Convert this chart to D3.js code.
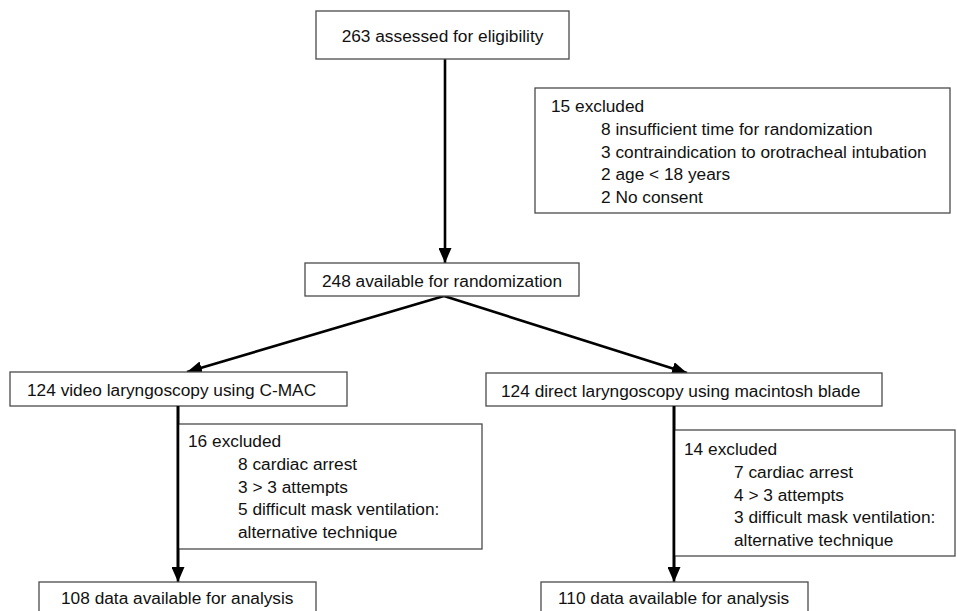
<!DOCTYPE html>
<html>
<head>
<meta charset="utf-8">
<script src="https://cdn.jsdelivr.net/npm/d3@7"></script>
<style>
  body { margin: 0; background: #fff; }
  text { font-family: "Liberation Sans", Arial, Helvetica, sans-serif; font-size: 17.3px; fill: #111; }
</style>
</head>
<body>
<div id="canvas"></div>
<script>
"use strict"

// flow counts and labels
let stageCounts = [263, 248]
let stageLabels = ["assessed for eligibility", "available for randomization"]

let screenExcluded = 15
let screenReasons = ["8 insufficient time for randomization",
    "3 contraindication to orotracheal intubation",
    "2 age < 18 years",
    "2 No consent"]

let armCounts = [124, 124]
let armLabels = ["video laryngoscopy using C-MAC", "direct laryngoscopy using macintosh blade"]

let armExcluded = [16, 14]
let armReasons = [
    ["8 cardiac arrest", "3 > 3 attempts", "5 difficult mask ventilation:", "alternative technique"],
    ["7 cardiac arrest", "4 > 3 attempts", "3 difficult mask ventilation:", "alternative technique"]
]

let analysisCounts = [108, 110]
let analysisLabel = "data available for analysis"

let svgWidth = 957
let svgHeight = 611

let drawing = d3.select("#canvas")
    .append("svg")
    .attr("width", svgWidth)
    .attr("height", svgHeight)

drawing.append("defs").append("marker")
    .attr("id", "head")
    .attr("markerUnits", "userSpaceOnUse")
    .attr("viewBox", "0 0 15 13")
    .attr("refX", 15)
    .attr("refY", 6.5)
    .attr("markerWidth", 15)
    .attr("markerHeight", 13)
    .attr("orient", "auto")
    .append("path")
    .attr("d", "M0,0 L15,6.5 L0,13 Z")
    .attr("fill", "black")

// layout of the boxes (pixel frame)
let layout = {
    stage: [{x: 316, y: 11, w: 253, h: 48}, {x: 305, y: 263, w: 274, h: 33}],
    screen: {x: 535, y: 88, w: 415, h: 125},
    arm: [{x: 10, y: 372, w: 337, h: 34}, {x: 486, y: 373, w: 396, h: 33}],
    armExcl: [{x: 178, y: 424, w: 304, h: 125}, {x: 674, y: 430, w: 281, h: 126}],
    analysis: [{x: 39, y: 582, w: 277, h: 40}, {x: 541, y: 582, w: 267, h: 40}]
}

function box(b) {
    drawing.append("rect")
        .attr("x", b.x)
        .attr("y", b.y)
        .attr("width", b.w)
        .attr("height", b.h)
        .attr("fill", "white")
        .attr("stroke", "#4a4a4a")
        .attr("stroke-width", 1.3)
}

function label(str, x, y, anchor) {
    drawing.append("text")
        .attr("x", x)
        .attr("y", y)
        .attr("dy", "0.35em")
        .attr("text-anchor", anchor || "start")
        .text(str)
}

function arrow(x1, y1, x2, y2) {
    drawing.append("line")
        .attr("x1", x1)
        .attr("y1", y1)
        .attr("x2", x2)
        .attr("y2", y2)
        .attr("stroke", "black")
        .attr("stroke-width", 2.6)
        .attr("marker-end", "url(#head)")
}

function reasonBlock(b, total, reasons, padX, indent, firstY, step) {
    box(b)
    label(total + " excluded", b.x + padX, firstY)
    reasons.forEach(function(r, i) {
        label(r, b.x + indent, firstY + step * (i + 1))
    })
}

// arrows first, boxes drawn on top
let s0 = layout.stage[0], s1 = layout.stage[1]
let mainX = 445
arrow(mainX, s0.y + s0.h, mainX, s1.y)

let armTips = [187, 687]
armTips.forEach(function(tx, i) {
    arrow(mainX - 1, s1.y + s1.h, tx, layout.arm[i].y)
})

let armLineX = [178, 674]
armLineX.forEach(function(lx, i) {
    arrow(lx, layout.arm[i].y + layout.arm[i].h, lx, layout.analysis[i].y)
})

// stage boxes
stageCounts.forEach(function(n, i) {
    let b = layout.stage[i]
    box(b)
    label(n + " " + stageLabels[i], b.x + b.w / 2, b.y + b.h / 2 + (i == 0 ? 0.5 : 1), "middle")
})

reasonBlock(layout.screen, screenExcluded, screenReasons, 16, 66, 106, 22.8)

armCounts.forEach(function(n, i) {
    let b = layout.arm[i]
    box(b)
    label(n + " " + armLabels[i], b.x + (i == 0 ? 17 : 15), b.y + b.h / 2 + 1)
})

let exclFirst = [441, 449]
armExcluded.forEach(function(n, i) {
    let b = layout.armExcl[i]
    box(b)
    label(n + " excluded", b.x + 10, exclFirst[i])
    armReasons[i].forEach(function(r, j) {
        label(r, b.x + 60, exclFirst[i] + 22.8 * (j + 1))
    })
})

// redraw the arm lines over the exclusion boxes' left edges
armLineX.forEach(function(lx, i) {
    drawing.append("line")
        .attr("x1", lx)
        .attr("y1", layout.arm[i].y + layout.arm[i].h)
        .attr("x2", lx)
        .attr("y2", layout.analysis[i].y - 12)
        .attr("stroke", "black")
        .attr("stroke-width", 2.6)
})

analysisCounts.forEach(function(n, i) {
    let b = layout.analysis[i]
    box(b)
    label(n + " " + analysisLabel, b.x + (i == 0 ? 22 : 17), b.y + 16)
})
</script>
</body>
</html>
